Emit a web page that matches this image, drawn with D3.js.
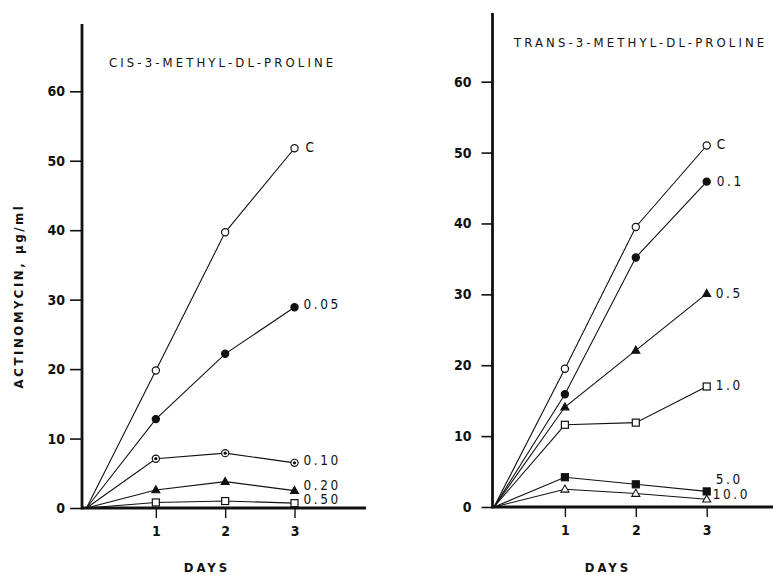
<!DOCTYPE html>
<html><head><meta charset="utf-8">
<script src="https://cdn.jsdelivr.net/npm/d3@7"></script>
<style>
body{margin:0;background:#fff;}
svg{display:block;}
text{font-family:"DejaVu Sans Condensed","Liberation Sans Narrow","DejaVu Sans",sans-serif;fill:#111;}
</style></head>
<body>
<svg id="chart" width="773" height="575"></svg>
<script>
// ---- data ----
const days = [0, 1, 2, 3];
const yTicks = [0, 10, 20, 30, 40, 50, 60];
const xTicks = [1, 2, 3];

const cisSeries = ["C", "0.05", "0.10", "0.20", "0.50"];
const cisC    = [0, 19.8, 39.7, 51.8];
const cis005  = [0, 12.8, 22.2, 28.9];
const cis010  = [0, 7.1, 7.9, 6.5];
const cis020  = [0, 2.6, 3.8, 2.5];
const cis050  = [0, 0.8, 1.0, 0.7];
const cisMarkers = ["openCircle", "filledCircle", "dotCircle", "filledTriangle", "openSquare"];

const transSeries = ["C", "0.1", "0.5", "1.0", "5.0", "10.0"];
const transC   = [0, 19.5, 39.5, 51.0];
const trans01  = [0, 15.9, 35.2, 45.9];
const trans05  = [0, 14.1, 22.1, 30.1];
const trans10  = [0, 11.6, 11.9, 17.0];
const trans50  = [0, 4.2, 3.2, 2.2];
const trans100 = [0, 2.5, 1.9, 1.1];
const transMarkers = ["openCircle", "filledCircle", "filledTriangle", "openSquare", "filledSquare", "openTriangle"];

const cisTitle = "CIS-3-METHYL-DL-PROLINE";
const transTitle = "TRANS-3-METHYL-DL-PROLINE";
const yLabel = "ACTINOMYCIN,  µg/ml";
const xLabel = "DAYS";

// ---- drawing ----
const svg = d3.select("#chart");

function drawMarker(g, type, x, y) {
  const r = 3.6;
  if (type === "openCircle" || type === "filledCircle" || type === "dotCircle") {
    g.append("circle").attr("cx", x).attr("cy", y).attr("r", r)
      .attr("fill", type === "filledCircle" ? "#111" : "#fff")
      .attr("stroke", "#111").attr("stroke-width", 1.2);
    if (type === "dotCircle") g.append("circle").attr("cx", x).attr("cy", y).attr("r", 1.6).attr("fill", "#111");
  } else if (type === "openSquare" || type === "filledSquare") {
    const s = 7;
    g.append("rect").attr("x", x - s / 2).attr("y", y - s / 2).attr("width", s).attr("height", s)
      .attr("fill", type === "filledSquare" ? "#111" : "#fff")
      .attr("stroke", "#111").attr("stroke-width", 1.2);
  } else {
    const h = 7, w = 8;
    g.append("path").attr("d", `M${x},${y - h * 0.6}L${x + w / 2},${y + h * 0.4}L${x - w / 2},${y + h * 0.4}Z`)
      .attr("fill", type === "filledTriangle" ? "#111" : "#fff")
      .attr("stroke", "#111").attr("stroke-width", 1.1);
  }
}

function panel(cfg) {
  const x = d3.scaleLinear().domain([0, 3]).range([cfg.x0, cfg.x3]);
  const y = d3.scaleLinear().domain([0, 60]).range([cfg.y0, cfg.y60]);
  const g = svg.append("g");

  // y axis via d3
  const yAxis = d3.axisLeft(y).tickValues(yTicks).tickFormat(d3.format("d"))
    .tickSize(cfg.tickLen).tickPadding(6).tickSizeOuter(0);
  const ya = g.append("g").attr("transform", `translate(${cfg.axisX},0)`).call(yAxis);
  ya.select(".domain").remove();
  ya.selectAll(".tick line").attr("stroke", "#111").attr("stroke-width", 1.6);
  ya.selectAll(".tick text").style("font-size", "14px").style("font-weight", "bold")
    .attr("fill", "#111").attr("x", -cfg.tickLen - cfg.labelGap);
  g.append("line").attr("x1", cfg.axisX).attr("x2", cfg.axisX)
    .attr("y1", cfg.axisTop).attr("y2", cfg.y0 + 1.5)
    .attr("stroke", "#111").attr("stroke-width", 2.8);

  // x axis via d3
  const xAxis = d3.axisBottom(x).tickValues(xTicks).tickFormat(d3.format("d"))
    .tickSize(10).tickPadding(8).tickSizeOuter(0);
  const xa = g.append("g").attr("transform", `translate(0,${cfg.y0})`).call(xAxis);
  xa.select(".domain").remove();
  xa.selectAll(".tick line").attr("stroke", "#111").attr("stroke-width", 1.4);
  xa.selectAll(".tick text").style("font-size", "14px").style("font-weight", "bold").attr("fill", "#111");
  g.append("line").attr("x1", cfg.axisX).attr("x2", cfg.axisRight)
    .attr("y1", cfg.y0).attr("y2", cfg.y0)
    .attr("stroke", "#111").attr("stroke-width", 2.8);

  // title
  g.append("text").attr("x", cfg.titleX).attr("y", cfg.titleY)
    .style("font-size", "13px").style("letter-spacing", "3.1px").text(cfg.title);
  // x label
  g.append("text").attr("x", cfg.daysX).attr("y", 572).attr("text-anchor", "middle")
    .style("font-size", "13px").style("font-weight", "bold").style("letter-spacing", "3px").text(xLabel);

  const line = d3.line().x((d, i) => x(days[i])).y(d => y(d));
  cfg.series.forEach((vals, k) => {
    g.append("path").attr("d", line(vals)).attr("fill", "none")
      .attr("stroke", "#111").attr("stroke-width", 1.1);
  });
  cfg.series.forEach((vals, k) => {
    for (let i = 1; i < vals.length; i++) drawMarker(g, cfg.markers[k], x(days[i]), y(vals[i]));
    const n = cfg.nudge[k];
    g.append("text").attr("x", x(3) + n[0]).attr("y", y(vals[3]) + n[1])
      .attr("dominant-baseline", "middle")
      .style("font-size", "13.5px").style("letter-spacing", "2.6px").text(cfg.names[k]);
  });
}

panel({
  x0: 86.5, x3: 294.5, y0: 508, y60: 91.3, axisX: 82, axisTop: 24, axisRight: 366,
  tickLen: 12, labelGap: 5,
  title: cisTitle, titleX: 109, titleY: 67, daysX: 207,
  series: [cisC, cis005, cis010, cis020, cis050], markers: cisMarkers, names: cisSeries,
  nudge: [[11, 0], [9, -2], [9, -2], [9, -5], [9, -3]]
});
panel({
  x0: 494, x3: 706.7, y0: 507, y60: 81.7, axisX: 492.5, axisTop: 13, axisRight: 773,
  tickLen: 11, labelGap: 10,
  title: transTitle, titleX: 514, titleY: 47, daysX: 608,
  series: [transC, trans01, trans05, trans10, trans50, trans100], markers: transMarkers, names: transSeries,
  nudge: [[10, 0], [10, 0], [9, 0], [9, 0], [9, -11], [6, -4]]
});

// y label
svg.append("text").attr("transform", "translate(19,296) rotate(-90)")
  .attr("text-anchor", "middle").attr("dominant-baseline", "middle")
  .style("font-size", "13px").style("font-weight", "bold").style("letter-spacing", "2.6px")
  .text(yLabel);
</script>
</body></html>
